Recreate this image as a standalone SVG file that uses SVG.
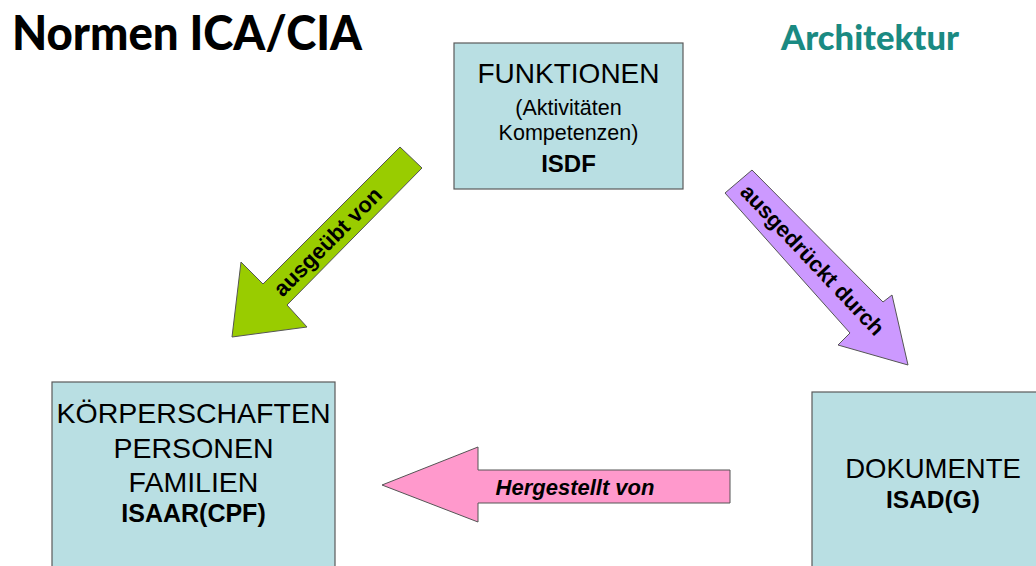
<svg xmlns="http://www.w3.org/2000/svg" width="1036" height="566" viewBox="0 0 1036 566">
<style>
.box{fill:#b9dfe3;stroke:#5a5a5a;stroke-width:1.2}
.t{font-family:"Liberation Sans",Arial,sans-serif;fill:#000;text-anchor:middle}
.b{font-weight:bold}
.arr{stroke:#555;stroke-width:1}
.lbl{font-family:"Liberation Sans",Arial,sans-serif;font-weight:bold;font-size:22px;fill:#000;text-anchor:middle}
.title{font-family:Lato,"Open Sans",sans-serif;font-weight:900}
</style>
<rect width="1036" height="566" fill="#fff"/>
<text class="title" x="12" y="50" font-size="48" textLength="350" lengthAdjust="spacingAndGlyphs" fill="#000">Normen ICA/CIA</text>
<text class="title" x="781" y="50" font-size="35" textLength="178" lengthAdjust="spacingAndGlyphs" fill="#1a8a82">Architektur</text>
<g id="connectors">
<g id="arrow-ausgeuebt">
<polygon class="arr" fill="#99cc00" points="400,147 422,168 287,305 307,327 232,337 241,262 263,284"/>
<text class="lbl" transform="translate(333,247) rotate(-45.2)">ausgeübt von</text>
</g>
<g id="arrow-ausgedrueckt">
<polygon class="arr" fill="#cc99ff" points="752,170 883,302 892,295 908,365 838,345 850,333 725,193"/>
<text class="lbl" transform="translate(807,265) rotate(46.7)">ausgedrückt durch</text>
</g>
<g id="arrow-hergestellt">
<polygon class="arr" fill="#ff99cc" points="382,485 478,447 478,470 730,470 730,503 478,503 478,522"/>
<text class="lbl" x="575" y="495" font-style="italic">Hergestellt von</text>
</g>
</g>
<g id="node-funktionen">
<rect class="box" x="454" y="43" width="229" height="146"/>
<text class="t" x="568.5" y="83" font-size="28">FUNKTIONEN</text>
<text class="t" x="568.5" y="115" font-size="21.5">(Aktivitäten</text>
<text class="t" x="568.5" y="140" font-size="21.5">Kompetenzen)</text>
<text class="t b" x="568.5" y="172" font-size="24">ISDF</text>
</g>
<g id="node-koerperschaften">
<rect class="box" x="52" y="382" width="283" height="200"/>
<text class="t" x="193.5" y="423" font-size="28.5">KÖRPERSCHAFTEN</text>
<text class="t" x="193.5" y="458" font-size="28.5">PERSONEN</text>
<text class="t" x="193.5" y="492" font-size="28.5">FAMILIEN</text>
<text class="t b" x="193.5" y="522" font-size="25">ISAAR(CPF)</text>
</g>
<g id="node-dokumente">
<rect class="box" x="812" y="392" width="240" height="190"/>
<text class="t" x="933" y="478" font-size="27.5">DOKUMENTE</text>
<text class="t b" x="933" y="508" font-size="24.5">ISAD(G)</text>
</g>
</svg>
